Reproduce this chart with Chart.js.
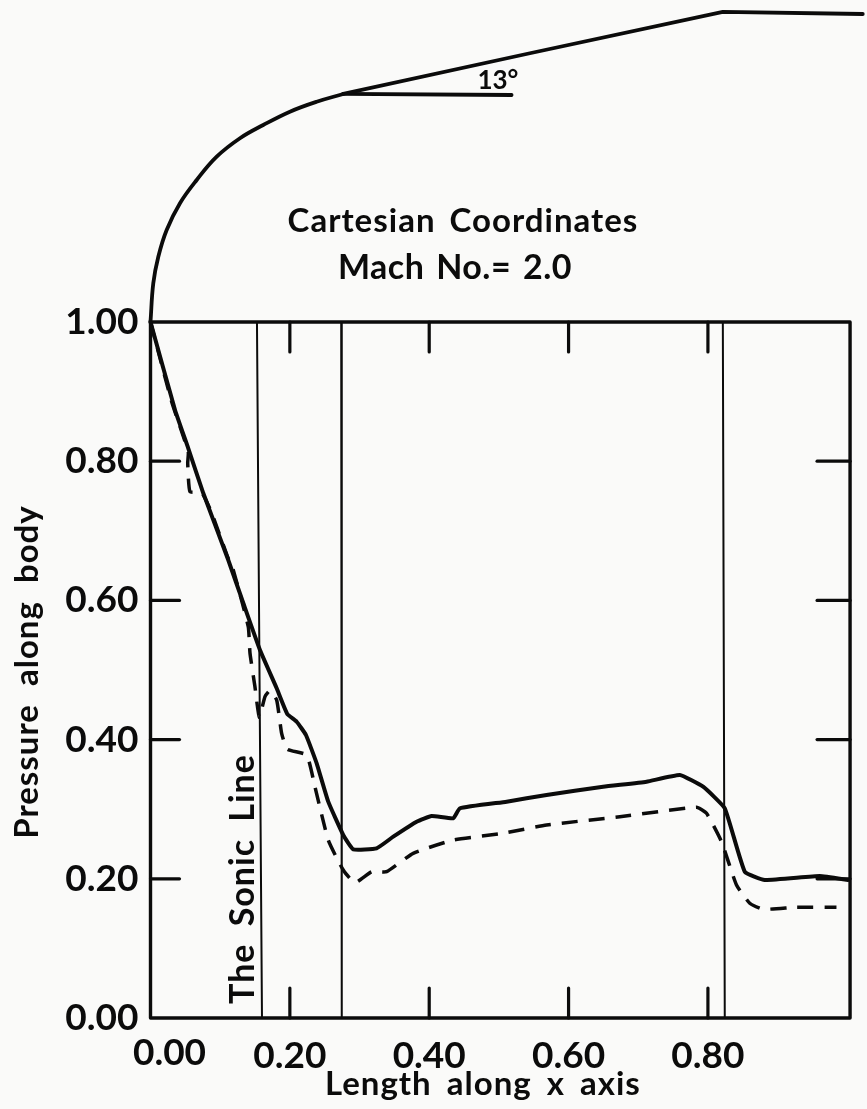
<!DOCTYPE html>
<html><head><meta charset="utf-8">
<style>html,body{margin:0;padding:0;background:#fafaf9}canvas{display:block}</style>
<script src="https://cdn.jsdelivr.net/npm/chart.js@4"></script>
</head><body><canvas id="c" width="867" height="1109"></canvas>
<script>
const xTickValues=[0,0.2,0.4,0.6,0.8];
const yTickValues=[0,0.2,0.4,0.6,0.8,1.0];
const solidX=[0,.0352,.0542,.0758,.1116,.1331,.1571,.1811,.1963,.2098,.2231,.2385,.2551,.2766,.2910,.3245,.3484,.3819,.4034,.4344,.4440,.5111,.5684,.6496,.7119,.7597,.7931,.8242,.8529,.8816,.9605,1.0011];
const solidY=[1,.8736,.8185,.7539,.6580,.5963,.5287,.4737,.4368,.4257,.4066,.3659,.3108,.2629,.2424,.2438,.2605,.2820,.2902,.2869,.3013,.3108,.3204,.3323,.3395,.3491,.3323,.3013,.2102,.1983,.2040,.1983];
const dashX=[0,.0304,.0542,.0534,.0567,.0735,.0878,.1102,.1188,.1403,.1428,.1499,.1561,.1643,.1714,.1811,.1882,.1963,.2241,.2360,.2551,.2766,.2934,.3174,.3389,.3770,.4344,.5062,.5684,.6736,.7836,.7980,.8195,.8410,.8601,.8792,.9271,.9845];
const dashY=[1,.8855,.8136,.7970,.7562,.7548,.7256,.6638,.6437,.5622,.5240,.4760,.4320,.4616,.4703,.4569,.4091,.3861,.3779,.3323,.2557,.2126,.1944,.2102,.2102,.2366,.2557,.2654,.2773,.2892,.3027,.2941,.2533,.1911,.1648,.1562,.1591,.1591];
const bodyCurveX=[0,.004,.0112,.0232,.0423,.0663,.0950,.1284,.1618,.2001,.2385,.2766];
const bodyCurveY=[1,1.0556,1.0938,1.1322,1.1706,1.2040,1.2375,1.2640,1.2830,1.3022,1.3165,1.3276];
const bodyStraightX=[.2766,.5445,.8214,1.0222];
const bodyStraightY=[1.3276,1.3861,1.4454,1.4425];
const angleX=[.2766,.5182];
const angleY=[1.3276,1.3261];
const frameX=[0,0,1.004,1.004,0];
const frameY=[1,0,0,1,1];
const sonicX=[.1528,.16];
const line2X=[.2737,.2745];
const line3X=[.8214,.8242];
const vertY=[1,0];
const topTicks=[0.2,0.4,0.6,0.8];
const sideTicks=[0.2,0.4,0.6,0.8];
const xLabels=['0.00','0.20','0.40','0.60','0.80'];
const ink='#0b0b0b';
const font='Lato';
const pts=(xs,ys)=>xs.map((x,i)=>({x,y:ys[i]}));
const line=(label,xs,ys,w,extra)=>Object.assign({label,data:pts(xs,ys),borderColor:ink,borderWidth:w,pointRadius:0,tension:0,fill:false,showLine:true,clip:false,borderCapStyle:'round',borderJoinStyle:'round'},extra||{});
const notes=[
 {t:'Cartesian Coordinates',x:.4484,y:1.1451,size:33,sp:'1px',ws:'5px',rot:0},
 {t:'Mach No.= 2.0',x:.4369,y:1.0776,size:34,sp:'0.5px',ws:'3px',rot:0},
 {t:'13°',x:.4986,y:1.3470,size:26,sp:'0px',ws:'0px',rot:0},
 {t:'The Sonic Line',x:.1327,y:.1997,size:34,sp:'1px',ws:'8px',rot:-90},
 {t:'Pressure along body',x:-.1765,y:.4971,size:33,sp:'1px',ws:'9px',rot:-90},
 {t:'Length along x axis',x:.4770,y:-.0960,size:33,sp:'1px',ws:'6px',rot:0},
];
const marks={id:'marks',afterDatasetsDraw(ch){
 const g=ch.ctx,X=ch.scales.x,Y=ch.scales.y;
 g.save();g.strokeStyle=ink;g.lineCap='round';g.lineWidth=3.2;
 const L=30;
 topTicks.forEach(v=>{const p=X.getPixelForValue(v);
  g.beginPath();g.moveTo(p,Y.getPixelForValue(1));g.lineTo(p,Y.getPixelForValue(1)+L);g.stroke();
  g.beginPath();g.moveTo(p,Y.getPixelForValue(0));g.lineTo(p,Y.getPixelForValue(0)-L);g.stroke();});
 sideTicks.forEach(v=>{const p=Y.getPixelForValue(v);
  g.beginPath();g.moveTo(X.getPixelForValue(0),p);g.lineTo(X.getPixelForValue(0)+29,p);g.stroke();
  g.beginPath();g.moveTo(X.getPixelForValue(1.004),p);g.lineTo(X.getPixelForValue(1.004)-33,p);g.stroke();});
 g.fillStyle=ink;g.textAlign='center';g.textBaseline='middle';
 notes.forEach(n=>{g.save();g.font='700 '+n.size+'px '+font;g.letterSpacing=n.sp;g.wordSpacing=n.ws;
  g.translate(X.getPixelForValue(n.x),Y.getPixelForValue(n.y));g.rotate(n.rot*Math.PI/180);g.fillText(n.t,0,0);g.restore();});
 g.font='700 37px '+font;g.letterSpacing='0px';
 g.fillText(xLabels[0],X.getPixelForValue(0)+19,Y.getPixelForValue(0)+35);
 g.restore();
}};
new Chart(document.getElementById('c'),{type:'scatter',plugins:[marks],data:{datasets:[
 line('Body contour',bodyCurveX,bodyCurveY,3.8,{tension:.4}),
 line('Body straight',bodyStraightX,bodyStraightY,3.8),
 line('Angle',angleX,angleY,3.8),
 line('Frame',frameX,frameY,3.4,{borderCapStyle:'square'}),
 line('Sonic line',sonicX,vertY,2),
 line('Line 2',line2X,vertY,2),
 line('Line 3',line3X,vertY,2),
 line('Pressure (solid)',solidX,solidY,4,{tension:.12}),
 line('Pressure (dashed)',dashX,dashY,3.5,{tension:.15,borderDash:[16,11],borderCapStyle:'butt'}),
]},options:{responsive:false,animation:false,
 layout:{padding:{left:0,right:3,top:0,bottom:0}},
 plugins:{legend:{display:false},title:{display:false},tooltip:{enabled:false}},
 scales:{
  x:{type:'linear',min:0,max:1.024,
   afterBuildTicks(s){s.ticks=xTickValues.slice(1).map(v=>({value:v}));},
   afterFit(s){s.height=91;s.paddingLeft=0;s.paddingRight=0;},
   border:{display:false},grid:{display:false,drawTicks:false},
   ticks:{color:ink,padding:16,maxRotation:0,autoSkip:false,font:{family:font,size:37,weight:'700'},callback:v=>v.toFixed(2)}},
  y:{type:'linear',min:0,max:1.4626,
   afterBuildTicks(s){s.ticks=yTickValues.map(v=>({value:v}));},
   afterFit(s){s.width=150.5;s.paddingTop=0;s.paddingBottom=0;},
   border:{display:false},grid:{display:false,drawTicks:false},
   ticks:{color:ink,padding:12,autoSkip:false,font:{family:font,size:37,weight:'700'},callback:v=>v.toFixed(2)}}
 }}});
</script></body></html>
